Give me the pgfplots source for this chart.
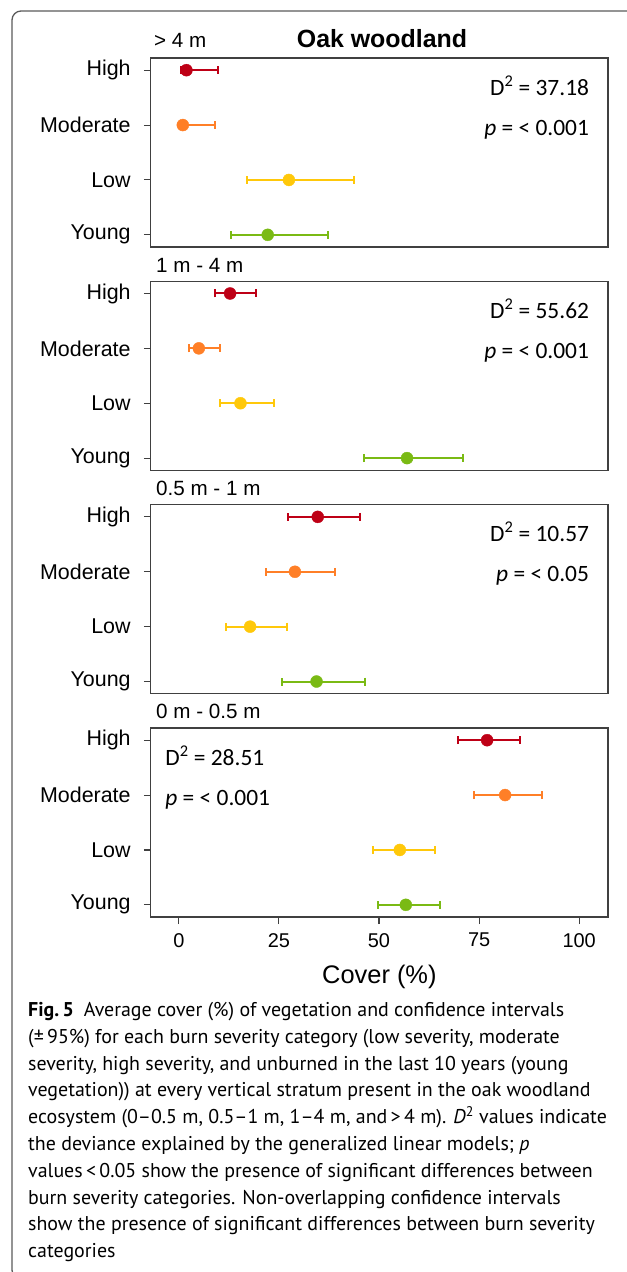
\documentclass[border=0pt]{standalone}
\usepackage{pgfplots}
\pgfplotsset{compat=1.18}
\usepackage{pgfplotstable}
\usepackage{fontspec}
\setmainfont{Liberation Sans}
\newfontfamily\calib{Carlito}
\newfontfamily\capfont{PT Sans}

\definecolor{cHigh}{RGB}{190,0,22}
\definecolor{cMod}{RGB}{255,127,39}
\definecolor{cLow}{RGB}{255,200,10}
\definecolor{cYoung}{RGB}{122,186,20}
\definecolor{frame}{RGB}{90,90,90}

% cat: 4 = High, 3 = Moderate, 2 = Low, 1 = Young
% > 4 m
\pgfplotstableread{
cat m lo hi
4 1.9 0.5 9.7
3 1.0 0.3 9.0
2 27.5 17.0 43.8
1 22.2 13.1 37.3
}\tabA
% 1 m - 4 m
\pgfplotstableread{
cat m lo hi
4 12.8 9.1 19.3
3 5.0 2.6 10.2
2 15.4 10.4 23.8
1 57.0 46.3 70.9
}\tabB
% 0.5 m - 1 m
\pgfplotstableread{
cat m lo hi
4 34.7 27.3 45.3
3 29.0 21.8 38.9
2 17.8 11.8 26.9
1 34.4 25.8 46.5
}\tabC
% 0 m - 0.5 m
\pgfplotstableread{
cat m lo hi
4 77.0 69.8 85.3
3 81.5 73.7 90.7
2 55.2 48.4 63.9
1 56.7 49.8 65.2
}\tabD

\pgfplotsset{
  panel/.style={
    width=457.2bp, height=189bp, scale only axis,
    xmin=-7, xmax=107.2, ymin=0.778, ymax=4.222,
    ytick={1,2,3,4}, yticklabels={Young,Low,Moderate,High},
    ytick pos=left, xtick pos=bottom,
    tick align=outside, major tick length=7bp,
    axis line style={line width=1.3bp, black!75},
    tick style={line width=1.1bp, black!75},
    yticklabel style={font=\fontsize{21.5}{21.5}\selectfont, inner sep=0pt, xshift=-13bp},
    xticklabel style={font=\fontsize{20}{20}\selectfont, inner sep=0pt, yshift=-9bp},
    /pgf/number format/assume math mode=true,
    clip=false,
  },
  sev/.style={
    only marks, mark=*, mark size=6bp,
    error bars/x dir=both, error bars/x explicit,
    error bars/error bar style={line width=2bp},
    error bars/error mark options={rotate=90, line width=2bp, mark size=4bp},
  },
}
\tikzset{ann/.style={font=\calib\fontsize{23.5}{23.5}\selectfont, inner sep=0pt}}

\newcommand{\sevpts}[1]{%
  \addplot[cHigh, sev, restrict expr to domain={\thisrow{cat}}{4:4}]
    table[x=m, y=cat, x error plus expr=\thisrow{hi}-\thisrow{m}, x error minus expr=\thisrow{m}-\thisrow{lo}] {#1};
  \addplot[cMod, sev, restrict expr to domain={\thisrow{cat}}{3:3}]
    table[x=m, y=cat, x error plus expr=\thisrow{hi}-\thisrow{m}, x error minus expr=\thisrow{m}-\thisrow{lo}] {#1};
  \addplot[cLow, sev, restrict expr to domain={\thisrow{cat}}{2:2}]
    table[x=m, y=cat, x error plus expr=\thisrow{hi}-\thisrow{m}, x error minus expr=\thisrow{m}-\thisrow{lo}] {#1};
  \addplot[cYoung, sev, restrict expr to domain={\thisrow{cat}}{1:1}]
    table[x=m, y=cat, x error plus expr=\thisrow{hi}-\thisrow{m}, x error minus expr=\thisrow{m}-\thisrow{lo}] {#1};
}

\begin{document}
\begin{tikzpicture}
\path[use as bounding box] (0,0) rectangle (627bp,-1272bp);
\draw[frame, line width=1.3bp, rounded corners=9bp] (12bp,-1279bp) rectangle (700bp,-11bp);

\node[font=\bfseries\fontsize{25}{25}\selectfont] at (382bp,-39bp) {Oak woodland};
\node[anchor=west, font=\fontsize{20.7}{20.7}\selectfont, inner sep=0pt] at (154bp,-40bp) {> 4 m};
\node[anchor=west, font=\fontsize{20.7}{20.7}\selectfont, inner sep=0pt] at (156bp,-265bp) {1 m - 4 m};
\node[anchor=west, font=\fontsize{20.7}{20.7}\selectfont, inner sep=0pt] at (156bp,-488bp) {0.5 m - 1 m};
\node[anchor=west, font=\fontsize{20.7}{20.7}\selectfont, inner sep=0pt] at (156bp,-711bp) {0 m - 0.5 m};

\begin{axis}[panel, at={(150.8bp,-58bp)}, anchor=north west, xtick=\empty]
\sevpts{\tabA}
\node[ann, anchor=east] at (axis cs:102.5,3.72) {D\textsuperscript{2} = 37.18};
\node[ann, anchor=east] at (axis cs:102.5,2.92) {\textit{p} = < 0.001};
\end{axis}

\begin{axis}[panel, at={(150.8bp,-281.3bp)}, anchor=north west, xtick=\empty]
\sevpts{\tabB}
\node[ann, anchor=east] at (axis cs:102.5,3.72) {D\textsuperscript{2} = 55.62};
\node[ann, anchor=east] at (axis cs:102.5,2.92) {\textit{p} = < 0.001};
\end{axis}

\begin{axis}[panel, at={(150.8bp,-504.7bp)}, anchor=north west, xtick=\empty]
\sevpts{\tabC}
\node[ann, anchor=east] at (axis cs:102.5,3.72) {D\textsuperscript{2} = 10.57};
\node[ann, anchor=east] at (axis cs:102.5,2.92) {\textit{p} = < 0.05};
\end{axis}

\begin{axis}[panel, at={(150.8bp,-728bp)}, anchor=north west,
  xtick={0,25,50,75,100},
  xlabel={Cover (\%)},
  xlabel style={font=\fontsize{25.5}{25.5}\selectfont, inner sep=0pt, yshift=-18bp}]
\sevpts{\tabD}
\node[ann, anchor=west] at (axis cs:-3.4,3.72) {D\textsuperscript{2} = 28.51};
\node[ann, anchor=west] at (axis cs:-3.4,2.92) {\textit{p} = < 0.001};
\end{axis}

\node[anchor=north west, align=left, inner sep=0pt,
  font=\capfont\fontsize{20}{26.9}\selectfont] at (28bp,-1002bp) {%
\textbf{Fig.\,5}\enspace Average cover (\%) of vegetation and confidence intervals\\
(±\,95\%) for each burn severity category (low severity, moderate\\
severity, high severity, and unburned in the last 10 years (young\\
vegetation)) at every vertical stratum present in the oak woodland\\
ecosystem (0–0.5 m, 0.5–1 m, 1–4 m, and\,>\,4 m). \textit{D}\textsuperscript{2} values indicate\\
the deviance explained by the generalized linear models; \textit{p}\\
values\,<\,0.05 show the presence of significant differences between\\
burn severity categories. Non-overlapping confidence intervals\\
show the presence of significant differences between burn severity\\
categories};
\end{tikzpicture}
\end{document}
